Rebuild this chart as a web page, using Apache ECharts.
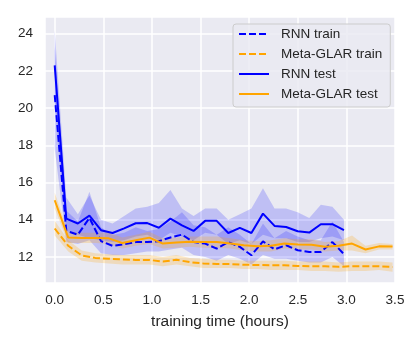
<!DOCTYPE html>
<html>
<head>
<meta charset="utf-8">
<script src="https://cdn.jsdelivr.net/npm/echarts@6/dist/echarts.min.js"></script>
<style>
  html, body { margin: 0; padding: 0; background: #fff; }
  #main { width: 413px; height: 344px; }
</style>
</head>
<body>
<div id="main"></div>
<script>
// wall-clock times (hours) of each evaluation
var rnnTime = [0, 0.119, 0.238, 0.357, 0.476, 0.595, 0.714, 0.833, 0.952, 1.071, 1.19, 1.309, 1.428,
               1.547, 1.666, 1.785, 1.904, 2.023, 2.142, 2.261, 2.38, 2.499, 2.618, 2.737, 2.856, 2.975];
var glarTime = [0, 0.139, 0.278, 0.417, 0.556, 0.695, 0.834, 0.973, 1.112, 1.251, 1.39, 1.529, 1.668,
                1.807, 1.946, 2.085, 2.224, 2.363, 2.502, 2.641, 2.78, 2.919, 3.058, 3.197, 3.336, 3.475];

// RNN
var rnnTrain   = [20.7, 13.4, 13.2, 14.1, 12.85, 12.6, 12.68, 12.8, 12.8, 12.85, 13.05, 13.2, 12.8,
                  12.72, 12.45, 12.8, 12.54, 12.09, 12.84, 12.41, 12.63, 12.36, 12.27, 12.27, 12.8, 12.15];
var rnnTrainLo = [17.8, 12.8, 12.7, 12.9, 12.2, 12.1, 12.1, 12.2, 12.3, 12.3, 12.4, 12.5, 12.1,
                  12.0, 11.8, 12.1, 11.9, 11.6, 12.1, 11.9, 11.9, 11.8, 11.7, 11.7, 12.0, 11.5];
var rnnTrainHi = [23.3, 14.5, 13.9, 15.5, 13.6, 13.2, 13.3, 13.6, 13.4, 13.5, 13.9, 14.4, 13.7,
                  13.6, 13.2, 13.6, 13.2, 12.7, 13.8, 13.0, 13.4, 13.1, 12.9, 12.9, 13.9, 12.8];
var rnnTest    = [22.3, 14.06, 13.8, 14.22, 13.44, 13.29, 13.54, 13.81, 13.82, 13.57, 14.06, 13.7, 13.4,
                  13.94, 13.94, 13.29, 13.56, 13.29, 14.33, 13.67, 13.61, 13.38, 13.31, 13.76, 13.76, 13.44];
var rnnTestLo  = [20.3, 13.4, 13.2, 13.0, 12.9, 12.8, 12.9, 13.1, 13.2, 12.9, 13.3, 13.1, 12.9,
                  13.3, 13.2, 12.7, 12.9, 12.7, 13.2, 13.0, 13.0, 12.8, 12.8, 13.0, 13.1, 12.9];
var rnnTestHi  = [24.2, 15.2, 14.3, 15.3, 14.0, 13.8, 14.2, 14.6, 14.7, 14.9, 15.6, 14.6, 14.2,
                  14.6, 14.6, 14.0, 14.3, 14.6, 15.7, 14.6, 14.6, 14.4, 14.1, 14.8, 14.7, 14.0];

// Meta-GLAR
var glarTrain   = [13.53, 12.6, 12.08, 11.95, 11.9, 11.87, 11.84, 11.84, 11.75, 11.85, 11.72, 11.65, 11.62,
                   11.62, 11.58, 11.57, 11.55, 11.55, 11.52, 11.5, 11.5, 11.47, 11.5, 11.5, 11.5, 11.46];
var glarTrainLo = [13.15, 12.3, 11.8, 11.7, 11.65, 11.6, 11.6, 11.6, 11.5, 11.6, 11.5, 11.4, 11.4,
                   11.4, 11.35, 11.35, 11.3, 11.3, 11.3, 11.25, 11.25, 11.2, 11.25, 11.25, 11.3, 11.2];
var glarTrainHi = [13.95, 12.9, 12.35, 12.2, 12.15, 12.1, 12.1, 12.1, 12.0, 12.1, 11.95, 11.9, 11.85,
                   11.85, 11.8, 11.8, 11.8, 11.8, 11.75, 11.75, 11.75, 11.7, 11.75, 11.75, 11.75, 11.7];
var glarTest    = [15.05, 13.04, 13.02, 13.02, 13.0, 12.75, 12.9, 13.04, 12.72, 12.78, 12.82, 12.8, 12.8,
                   12.72, 12.63, 12.58, 12.6, 12.72, 12.67, 12.66, 12.55, 12.6, 12.72, 12.4, 12.57, 12.56];
var glarTestLo  = [14.6, 12.75, 12.75, 12.75, 12.7, 12.45, 12.6, 12.7, 12.45, 12.5, 12.55, 12.5, 12.5,
                   12.45, 12.35, 12.3, 12.3, 12.45, 12.4, 12.4, 12.3, 12.35, 12.35, 12.2, 12.4, 12.4];
var glarTestHi  = [15.45, 13.35, 13.3, 13.3, 13.3, 13.05, 13.2, 13.35, 13.0, 13.05, 13.1, 13.1, 13.1,
                   13.0, 12.9, 12.85, 12.9, 13.0, 12.95, 12.95, 12.8, 12.85, 13.15, 12.6, 12.75, 12.7];

var BLUE = '#0000ff', ORANGE = '#ffa500';
var FONT = 'Liberation Sans';

function pairs(xs, ys) {
    return xs.map(function (x, i) { return [x, ys[i]]; });
}

// confidence band as one polygon, placed through the axes
function band(xs, lo, hi, fill) {
    return {
        type: 'custom',
        silent: true,
        z: 1,
        clip: true,
        data: [[xs[0], lo[0]]],
        renderItem: function (params, api) {
            var pts = [];
            for (var i = 0; i < xs.length; i++) pts.push(api.coord([xs[i], hi[i]]));
            for (var j = xs.length - 1; j >= 0; j--) pts.push(api.coord([xs[j], lo[j]]));
            return { type: 'polygon', shape: { points: pts }, style: { fill: fill } };
        }
    };
}

function line(name, xs, ys, color, dashed) {
    return {
        name: name,
        type: 'line',
        z: 3,
        symbol: 'none',
        data: pairs(xs, ys),
        lineStyle: { color: color, width: 2, type: dashed ? [7, 3] : 'solid' },
        itemStyle: { color: color },
        animation: false
    };
}

var option = {
    backgroundColor: '#ffffff',
    animation: false,
    grid: { left: 45, right: 18, top: 17, bottom: 61, show: true, backgroundColor: '#eaeaf2', borderWidth: 0 },
    legend: {
        data: ['RNN train', 'Meta-GLAR train', 'RNN test', 'Meta-GLAR test'],
        orient: 'vertical',
        left: 233, top: 24,
        padding: [3, 8, 6, 5],
        itemWidth: 30, itemHeight: 14, itemGap: 6,
        itemStyle: { opacity: 0 },
        backgroundColor: 'rgba(234,234,242,0.85)',
        borderColor: '#cccccc', borderWidth: 1, borderRadius: 3,
        textStyle: { fontFamily: FONT, fontSize: 13.5, lineHeight: 14, color: '#262626', padding: [0, 0, 0, 7] }
    },
    xAxis: {
        type: 'value',
        min: -0.1, max: 3.5,
        splitNumber: 7,
        name: 'training time (hours)',
        nameLocation: 'middle',
        nameGap: 31,
        nameTextStyle: { fontFamily: FONT, fontSize: 15.5, color: '#262626' },
        axisLine: { show: false },
        axisTick: { show: false },
        axisLabel: {
            fontFamily: FONT, fontSize: 13.5, color: '#262626', margin: 10, showMinLabel: false,
            formatter: function (v) { return v < 0 ? '' : v.toFixed(1); }
        },
        splitLine: { show: true, lineStyle: { color: '#ffffff', width: 1.5 } }
    },
    yAxis: {
        type: 'value',
        min: 10.6, max: 24.9,
        splitNumber: 7,
        axisLine: { show: false },
        axisTick: { show: false },
        axisLabel: {
            fontFamily: FONT, fontSize: 13.5, color: '#262626', margin: 12,
            showMinLabel: false, showMaxLabel: false,
            formatter: function (v) { return (v % 2 === 0) ? String(v) : ''; }
        },
        splitLine: { show: true, lineStyle: { color: '#ffffff', width: 1.5 } }
    },
    series: [
        band(rnnTime, rnnTrainLo, rnnTrainHi, 'rgba(0,0,255,0.18)'),
        band(glarTime, glarTrainLo, glarTrainHi, 'rgba(255,165,0,0.22)'),
        band(rnnTime, rnnTestLo, rnnTestHi, 'rgba(0,0,255,0.18)'),
        band(glarTime, glarTestLo, glarTestHi, 'rgba(255,165,0,0.22)'),
        line('RNN train', rnnTime, rnnTrain, BLUE, true),
        line('Meta-GLAR train', glarTime, glarTrain, ORANGE, true),
        line('RNN test', rnnTime, rnnTest, BLUE, false),
        line('Meta-GLAR test', glarTime, glarTest, ORANGE, false)
    ]
};

var myChart = echarts.init(document.getElementById('main'));
myChart.setOption(option);
</script>
</body>
</html>
